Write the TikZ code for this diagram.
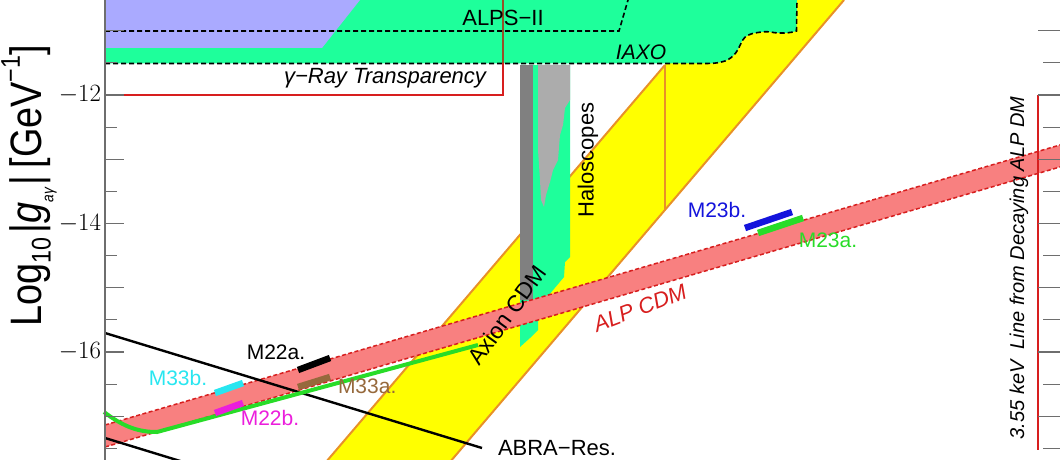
\documentclass[tikz,border=0pt]{standalone}
\usepackage{fontspec}
\newfontfamily\lsans{Liberation Sans}
\definecolor{lav}{RGB}{170,170,255}
\definecolor{iaxo}{RGB}{30,255,155}
\definecolor{yel}{RGB}{255,255,0}
\definecolor{org}{RGB}{232,145,40}
\definecolor{salmon}{RGB}{248,128,128}
\definecolor{alpred}{RGB}{215,30,30}
\definecolor{dgrey}{RGB}{128,128,128}
\definecolor{lgrey}{RGB}{172,172,172}
\definecolor{tickc}{RGB}{110,110,110}
\definecolor{lgreen}{RGB}{40,220,40}
\definecolor{mcyan}{RGB}{40,230,240}
\definecolor{mmag}{RGB}{235,30,220}
\definecolor{mbrown}{RGB}{150,105,60}
\definecolor{mblue}{RGB}{20,20,220}
\definecolor{gbrown}{RGB}{150,80,40}
\begin{document}
\begin{tikzpicture}[x=1pt,y=-1pt,
  every node/.style={inner sep=0pt,outer sep=0pt},
  lab/.style={font=\lsans\fontsize{22}{24}\selectfont},
  mlab/.style={font=\lsans\fontsize{21}{23}\selectfont},
  ilab/.style={font=\lsans\itshape\fontsize{22}{24}\selectfont},
  ticklab/.style={anchor=east,font=\fontsize{26}{26}\selectfont},
  blackdash/.style={draw=black,line width=1.6pt,dash pattern=on 5pt off 3pt},
  reddash/.style={draw=alpred,line width=1.5pt,dash pattern=on 4pt off 2.5pt},
  bar/.style={line width=6.5pt,line cap=butt},
  tk/.style={draw=tickc,line width=1.2pt}]
\useasboundingbox (0,0) rectangle (1060,460);
\begin{scope}
\clip (0,0) rectangle (1060,460);
% yellow axion band
\fill[yel] (326,462) -- (665,65) -- (721,0) -- (844,0) -- (450,462) -- cycle;
\draw[org,line width=2pt] (326,462) -- (665,65);
\draw[org,line width=2pt] (450,462) -- (844,0);
\draw[org,line width=2pt] (665,65) -- (665,209);
% IAXO region
\fill[iaxo] (105,0) -- (797,0) -- (796.5,31)
  .. controls (790,33) and (786,33) .. (780,33)
  .. controls (772,33) and (770,31) .. (762,32)
  .. controls (752,33) and (745,35) .. (742,41)
  .. controls (738,50) and (735,57) .. (725,61)
  .. controls (718,63.5) and (712,63.5) .. (700,63.5)
  -- (105,63.5) -- cycle;
\draw[blackdash] (105,63.5) -- (700,63.5)
  .. controls (712,63.5) and (718,63.5) .. (725,61)
  .. controls (735,57) and (738,50) .. (742,41)
  .. controls (745,35) and (752,33) .. (762,32)
  .. controls (770,31) and (772,33) .. (780,33)
  .. controls (786,33) and (790,33) .. (796.5,31) -- (797,0);
% blue region
\fill[lav] (105,0) -- (360,0) -- (322,48) -- (105,48) -- cycle;
% ALPS-II
\draw[blackdash] (105,31) -- (619,31) -- (628,0);
% gamma-ray transparency
\draw[gbrown,line width=2pt] (503,0) -- (503,63.5);
\draw[alpred,line width=2pt] (503,63.5) -- (503,95) -- (105,95);
% haloscopes
\fill[iaxo] (520,65) -- (570,65) -- (570,257) -- (565,262) -- (564,277)
  -- (538,308) -- (538,330) -- (530,338) -- (520,347) -- cycle;
\fill[lgrey] (538,65) -- (570,65) -- (570,100) -- (565,108) -- (563,125)
  -- (560,135) -- (558,160) -- (553,170) -- (550,182) -- (546,195) -- (544,207)
  -- (541,200) -- (540,180) -- (538,150) -- cycle;
\fill[dgrey] (520,65) rectangle (533,300);
% ALP CDM band
\fill[salmon] (105,425) -- (1065,143.5) -- (1065,165.5) -- (105,447) -- cycle;
\draw[reddash] (105,425) -- (1065,143.5);
\draw[reddash] (105,447) -- (1065,165.5);
% ABRA lines
\draw[black,line width=2.4pt] (105,333) -- (482,448);
\draw[black,line width=2.4pt] (105,438) -- (185,462.5);
% green curve
\draw[lgreen,line width=4pt] (104,412) .. controls (125,428) and (140,432) .. (157,432) -- (478,345);
% bars
\draw[bar,black] (298,370) -- (330,358);
\draw[bar,mbrown] (298,387) -- (330,377);
\draw[bar,mcyan] (215,393) -- (243,383);
\draw[bar,mmag] (215,413) -- (243,403);
\draw[bar,mblue] (745,228) -- (792,212);
\draw[bar,lgreen] (758,233) -- (803,218);
% 3.55 keV line
\draw[alpred,line width=2pt] (1038,95) -- (1038,450);
\end{scope}
% axis
\draw[tk] (105,0) -- (105,460);
\foreach \v in {-11,-12,-13,-14,-15,-16,-17}{
  \pgfmathsetmacro{\yy}{95+(-12-\v)*64.25}
  \draw[tk] (105,\yy) -- (124,\yy);
  \draw[tk] (1038,\yy) -- (1060,\yy);
}
\foreach \v in {-11.5,-12.5,-13.5,-14.5,-15.5,-16.5,-17.5}{
  \pgfmathsetmacro{\yy}{95+(-12-\v)*64.25}
  \draw[tk] (105,\yy) -- (117,\yy);
  \draw[tk] (1043,\yy) -- (1060,\yy);
}
\node[ticklab] (t12) at (101,95) {$-12$};
\node[ticklab] (t14) at (101,224) {$-14$};
\node[ticklab] (t16) at (101,352) {$-16$};
\node[rotate=90] (ylab) at (29,186) {\scalebox{0.86}[1]{\lsans\fontsize{44}{50}\selectfont Log\raisebox{-0.2em}{\fontsize{27}{27}\selectfont 10}\hspace{0.12em}|\textit{g}\raisebox{-0.26em}{\fontsize{16}{16}\selectfont\textit{aγ}}\hspace{0.04em}|\hspace{0.2em}[GeV\raisebox{0.5em}{\fontsize{27}{27}\selectfont −1}]}};
% labels
\node[lab] (alps) at (503,18) {ALPS−II};
\node[ilab,font=\lsans\itshape\fontsize{21}{24}\selectfont] (iaxolab) at (641,52) {IAXO};
\node[ilab] (gray) at (385,78) {γ−Ray Transparency};
\node[lab,rotate=90] (halo) at (588,160) {Haloscopes};
\node[lab,rotate=54,font=\lsans\fontsize{23}{24}\selectfont] (axion) at (507,315) {Axion CDM};
\node[ilab,rotate=21,text=alpred] (alpcdm) at (640,308) {ALP CDM};
\node[lab] (abra) at (557,448) {ABRA−Res.};
\node[mlab] (m22a) at (276,352) {M22a.};
\node[mlab,text=mbrown,anchor=west] (m33a) at (338,386) {M33a.};
\node[mlab,text=mcyan] (m33b) at (178,378) {M33b.};
\node[mlab,text=mmag] (m22b) at (270,418) {M22b.};
\node[mlab,text=mblue] (m23b) at (717,210) {M23b.};
\node[mlab,text=lgreen] (m23a) at (828,240) {M23a.};
\node[rotate=90,font=\lsans\itshape\fontsize{20}{22}\selectfont] (kev) at (1019,268) {3.55 keV\ \ Line from Decaying ALP DM};
\end{tikzpicture}
\end{document}
